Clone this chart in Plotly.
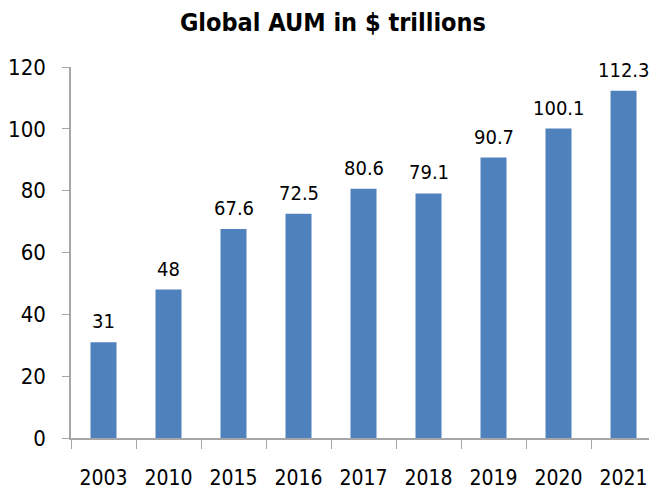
import plotly.graph_objects as go

years = ["2003", "2010", "2015", "2016", "2017", "2018", "2019", "2020", "2021"]
aum = [31, 48, 67.6, 72.5, 80.6, 79.1, 90.7, 100.1, 112.3]
labels = ["31", "48", "67.6", "72.5", "80.6", "79.1", "90.7", "100.1", "112.3"]

font = "DejaVu Sans Condensed, Roboto, sans-serif"

fig = go.Figure(go.Bar(
    x=years, y=aum,
    marker=dict(color="#4F81BD", line=dict(width=0)),
    cliponaxis=False,
))

for i, (v, lab) in enumerate(zip(aum, labels)):
    fig.add_annotation(x=i, y=v, xref="x", yref="y", text=lab, showarrow=False,
                       xanchor="center", yanchor="bottom", yshift=7,
                       font=dict(size=20, color="#000000", family=font))

fig.update_layout(
    width=649, height=492,
    margin=dict(l=71, r=0, t=67, b=54),
    paper_bgcolor="white", plot_bgcolor="white",
    bargap=0.6,
    showlegend=False,
    title=dict(text="<b>Global AUM in $ trillions</b>", x=0.513, xanchor="center",
               y=1 - 22 / 492, yanchor="middle",
               font=dict(size=25, color="#000000", family=font)),
    font=dict(family=font, color="#000000"),
)
fig.update_xaxes(
    type="category", range=[-0.5, 8.392], automargin=False,
    showline=True, linecolor="#A6A6A6", linewidth=1.5,
    ticks="outside", tickson="boundaries", ticklen=9, tickcolor="#A6A6A6",
    ticklabelstandoff=20,
    tickfont=dict(size=21, family=font), showgrid=False,
)
fig.update_yaxes(
    range=[0, 120], dtick=20, showline=True, linecolor="#A6A6A6", linewidth=1.5,
    ticks="outside", ticklen=7, tickcolor="#A6A6A6", automargin=False,
    ticklabelstandoff=12,
    tickfont=dict(size=22, family=font), showgrid=False, zeroline=False,
)

fig.write_html(
    "out.html",
    config={"displayModeBar": False},
    post_script="document.body.style.margin='0';document.body.style.overflow='hidden';",
)
